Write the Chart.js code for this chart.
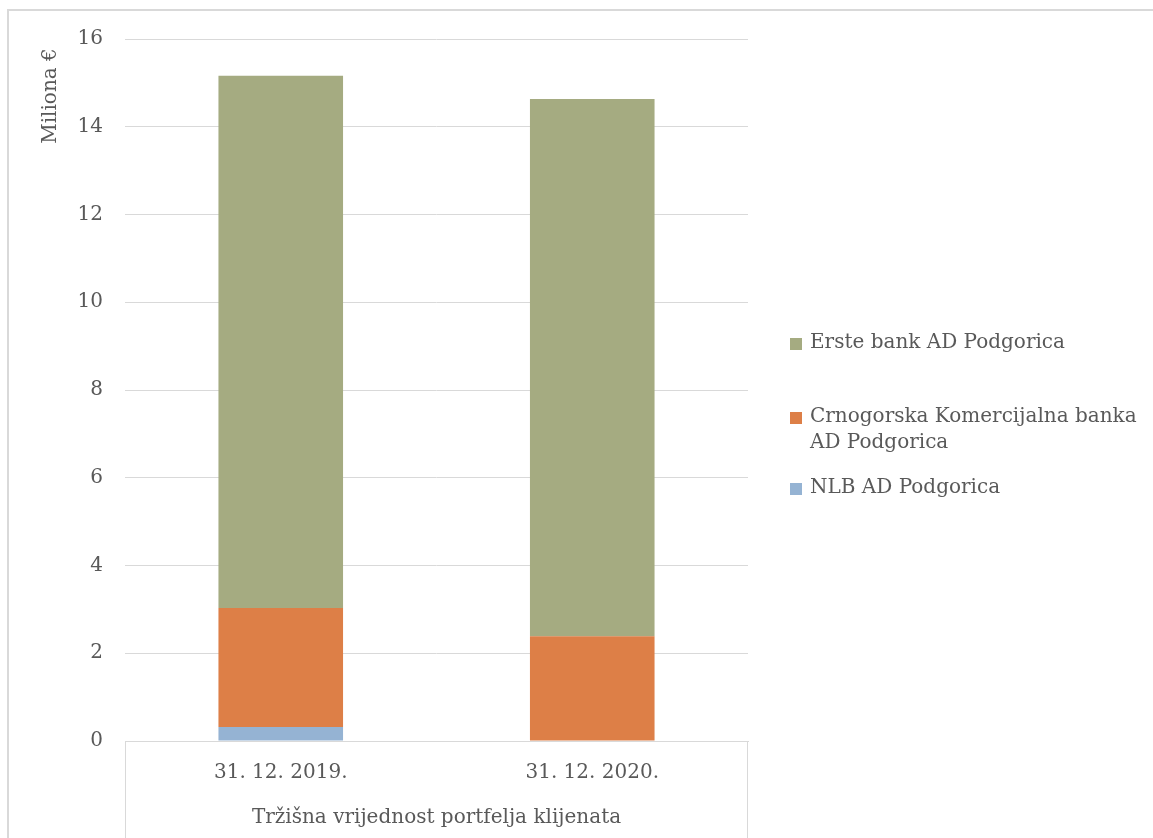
<!DOCTYPE html>
<html>
<head>
<meta charset="utf-8">
<script src="https://cdn.jsdelivr.net/npm/chart.js@4/dist/chart.umd.min.js"></script>
<style>
  html, body { margin: 0; padding: 0; background: #ffffff; }
  #wrap { position: relative; width: 1153px; height: 838px; }
</style>
</head>
<body>
<div id="wrap"><canvas id="c" width="1153" height="838"></canvas></div>
<script>
const categories = ["31. 12. 2019.", "31. 12. 2020."];
const groupLabel = "Tržišna vrijednost portfelja klijenata";
const axisTitle = "Miliona €";
const seriesNames = ["NLB AD Podgorica", "Crnogorska Komercijalna banka AD Podgorica", "Erste bank AD Podgorica"];
const legendLines = [["NLB AD Podgorica"], ["Crnogorska Komercijalna banka", "AD Podgorica"], ["Erste bank AD Podgorica"]];
const nlbValues = [0.32, 0];
const ckbValues = [2.71, 2.39];
const ersteValues = [12.13, 12.24];
const seriesColors = ["#95b3d3", "#dd7f47", "#a5ab81"];

const FONT = "'DejaVu Serif', 'Liberation Serif', serif";
const TEXT = "#595959";
const LINE = "#d9d9d9";

const extras = {
  id: "extras",
  afterDraw(chart) {
    const ctx = chart.ctx;
    const a = chart.chartArea;
    ctx.save();
    // outer frame
    ctx.strokeStyle = LINE;
    ctx.lineWidth = 2;
    ctx.beginPath();
    ctx.moveTo(8, 838);
    ctx.lineTo(8, 10);
    ctx.lineTo(1153, 10);
    ctx.stroke();
    // category box verticals
    ctx.lineWidth = 1;
    ctx.beginPath();
    ctx.moveTo(Math.round(a.left) + 0.5, a.bottom);
    ctx.lineTo(Math.round(a.left) + 0.5, 838);
    ctx.moveTo(Math.round(a.right) - 0.5, a.bottom);
    ctx.lineTo(Math.round(a.right) - 0.5, 838);
    ctx.stroke();
    // group label
    ctx.fillStyle = TEXT;
    ctx.font = "20px " + FONT;
    ctx.textAlign = "center";
    ctx.textBaseline = "middle";
    ctx.fillText(groupLabel, (a.left + a.right) / 2, 818);
    // y title
    ctx.save();
    ctx.translate(51, 96);
    ctx.rotate(-Math.PI / 2);
    ctx.fillText(axisTitle, 0, 0);
    ctx.restore();
    // legend (reversed order)
    ctx.textAlign = "left";
    const legendY = [343, 417, 488];
    const order = [2, 1, 0];
    order.forEach((di, i) => {
      const ds = chart.data.datasets[di];
      const y = legendY[i];
      ctx.fillStyle = ds.backgroundColor;
      ctx.fillRect(790, y - 5, 12, 12);
      ctx.fillStyle = TEXT;
      legendLines[di].forEach((ln, k) => {
        ctx.fillText(ln, 810, y + k * 26);
      });
    });
    ctx.restore();
  }
};

new Chart(document.getElementById("c"), {
  type: "bar",
  data: {
    labels: categories,
    datasets: [
      { label: seriesNames[0], data: nlbValues, backgroundColor: seriesColors[0] },
      { label: seriesNames[1], data: ckbValues, backgroundColor: seriesColors[1] },
      { label: seriesNames[2], data: ersteValues, backgroundColor: seriesColors[2] }
    ]
  },
  options: {
    responsive: false,
    animation: false,
    devicePixelRatio: 1,
    datasets: { bar: { barPercentage: 0.8, categoryPercentage: 0.5 } },
    layout: { padding: { left: 0, top: 39, right: 405, bottom: 0 } },
    plugins: { legend: { display: false }, tooltip: { enabled: false } },
    scales: {
      x: {
        stacked: true,
        afterFit(s) { s.height = 97; },
        grid: { display: false, drawTicks: false },
        border: { display: true, color: LINE, width: 1 },
        ticks: { color: TEXT, font: { family: FONT, size: 20 }, padding: 20 }
      },
      y: {
        stacked: true,
        min: 0, max: 16,
        afterFit(s) { s.width = 125; },
        grid: { color: LINE, lineWidth: 1, drawTicks: false },
        border: { display: false },
        ticks: { stepSize: 2, color: TEXT, font: { family: FONT, size: 20 }, padding: 22 }
      }
    }
  },
  plugins: [extras]
});
</script>
</body>
</html>
